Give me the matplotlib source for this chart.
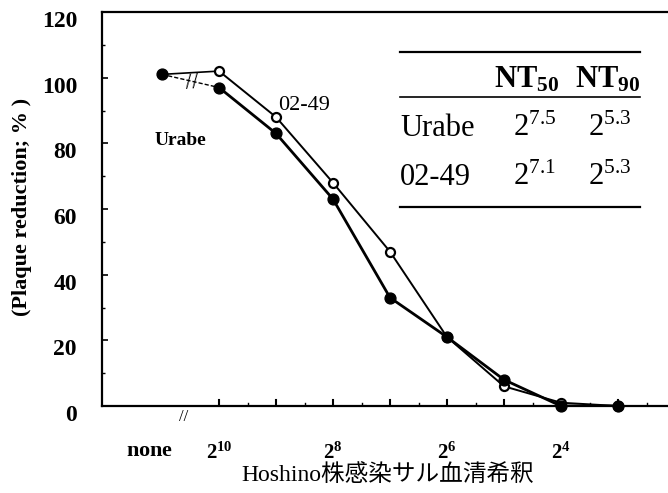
import matplotlib
matplotlib.use("Agg")
import matplotlib.pyplot as plt
import matplotlib.ticker as ticker
import matplotlib.transforms as mtransforms
from matplotlib.lines import Line2D

plt.rcParams["font.family"] = ["Liberation Serif", "Noto Sans CJK JP"]
plt.rcParams["mathtext.fontset"] = "custom"
plt.rcParams["mathtext.rm"] = "Liberation Serif"
plt.rcParams["mathtext.it"] = "Liberation Serif:italic"
plt.rcParams["mathtext.bf"] = "Liberation Serif:bold"

# ── Datos ────────────────────────────────────────────────────────────────────
# posición 0 = none, 1 = 2^10, 2 = 2^9, ... 8 = 2^3
posiciones = [0, 1, 2, 3, 4, 5, 6, 7, 8]
urabe      = [101, 97, 83, 63, 33, 21, 8, 0, 0]      # círculos llenos
cepa_0249  = [101, 102, 88, 68, 47, 21, 6, 1, 0]     # círculos abiertos

xtick_pos    = [0, 1, 3, 5, 7]
xtick_labels = [r"$\mathbf{none}$", r"$\mathbf{2^{10}}$", r"$\mathbf{2^{8}}$",
                r"$\mathbf{2^{6}}$", r"$\mathbf{2^{4}}$"]
yticks = [0, 20, 40, 60, 80, 100, 120]

tabla_filas = ["Urabe", "02-49"]
tabla_nt50  = [r"$2^{7.5}$", r"$2^{7.1}$"]
tabla_nt90  = [r"$2^{5.3}$", r"$2^{5.3}$"]

# ── Figura ───────────────────────────────────────────────────────────────────
fig = plt.figure(figsize=(6.68, 4.93), dpi=100)
ax = fig.add_axes([102 / 668, 87 / 493, 1 - 102 / 668, 394 / 493])

# primer tramo (none → 2^10)
ax.plot(posiciones[:2], cepa_0249[:2], "-", color="black", lw=1.2, zorder=2)
ax.plot(posiciones[:2], urabe[:2], "--", color="black", lw=1.0, dashes=(3, 1.5), zorder=2)
# resto de las curvas
ax.plot(posiciones[1:], cepa_0249[1:], "-", color="black", lw=1.4, zorder=2)
ax.plot(posiciones[1:], urabe[1:], "-", color="black", lw=2.0, zorder=2)
ax.plot(posiciones[1:], cepa_0249[1:], "o", color="black", mfc="white",
        mew=1.6, ms=6.5, zorder=3, clip_on=False)
ax.plot(posiciones, urabe, "o", color="black", ms=7.8, zorder=4, clip_on=False)

# marcas de corte "//"
ax.text(0.52, 98.5, "//", fontsize=17, ha="center", va="center", rotation=5)
ax.text(0.38, -3.5, "//", fontsize=12, ha="center", va="center", clip_on=False)

ax.text(0.32, 81, "Urabe", fontsize=14, fontweight="bold", ha="center", va="center")
ax.text(2.5, 91.5, "02-49", fontsize=16, ha="center", va="center")

ax.set_xlim(-1.053, 8.877)
ax.set_ylim(0, 120)
ax.spines["right"].set_visible(False)
for s in ["left", "bottom", "top"]:
    ax.spines[s].set_linewidth(1.6)

ax.xaxis.set_major_locator(ticker.FixedLocator(xtick_pos))
ax.set_xticklabels(xtick_labels, fontsize=15)
ax.get_xticklabels()[0].set_fontsize(16)
ax.tick_params(axis="x", which="major", direction="in", length=0, pad=26)
izq = mtransforms.ScaledTranslation(-12 / 100, 0, fig.dpi_scale_trans)
ax.get_xticklabels()[0].set_transform(ax.get_xticklabels()[0].get_transform() + izq)
for p in posiciones[1:]:
    ax.plot([p, p], [0, 1.8], color="black", lw=1.5, zorder=1)
for p in [1.5, 2.5, 3.5, 4.5, 5.5, 6.5, 7.5, 8.5]:
    ax.plot([p, p], [0, 0.8], color="black", lw=1.0, zorder=1)

ax.set_yticks(yticks)
ax.set_yticklabels([str(v) for v in yticks], fontsize=17, fontweight="bold")
ax.set_yticks(range(10, 120, 20), minor=True)
ax.tick_params(axis="y", which="major", direction="in", length=4, width=1.2, pad=18)
ax.tick_params(axis="y", which="minor", direction="in", length=2, width=1.0)
desplaza = mtransforms.ScaledTranslation(0, -7 / 100, fig.dpi_scale_trans)
for lbl in ax.get_yticklabels():
    lbl.set_transform(lbl.get_transform() + desplaza)

fig.text(22 / 668, 1 - 207 / 493, "(Plaque reduction; % )", rotation=90,
         fontsize=16, fontweight="bold", ha="center", va="center")
fig.text(388 / 668, 1 - 475 / 493, "Hoshino株感染サル血清希釈",
         fontsize=17, ha="center", va="center")

# ── Tabla ────────────────────────────────────────────────────────────────────
x0, x1 = 400 / 668, 640 / 668
for yy, lw in [(52, 1.6), (97, 1.2), (207, 1.6)]:
    fig.add_artist(Line2D([x0, x1], [1 - yy / 493] * 2, color="black", lw=lw))

fig.text(527 / 668, 1 - 80 / 493, r"$\mathbf{NT}_{\mathbf{50}}$", fontsize=22,
         ha="center", va="center")
fig.text(608 / 668, 1 - 80 / 493, r"$\mathbf{NT}_{\mathbf{90}}$", fontsize=22,
         ha="center", va="center")
for i, fila in enumerate(tabla_filas):
    yy = 1 - (128 + 49 * i) / 493
    fig.text(x0, yy, fila, fontsize=22, ha="left", va="center")
    fig.text(513 / 668, yy, tabla_nt50[i], fontsize=22, ha="left", va="center")
    fig.text(588 / 668, yy, tabla_nt90[i], fontsize=22, ha="left", va="center")

plt.savefig("out.png", dpi=100)
plt.close()
